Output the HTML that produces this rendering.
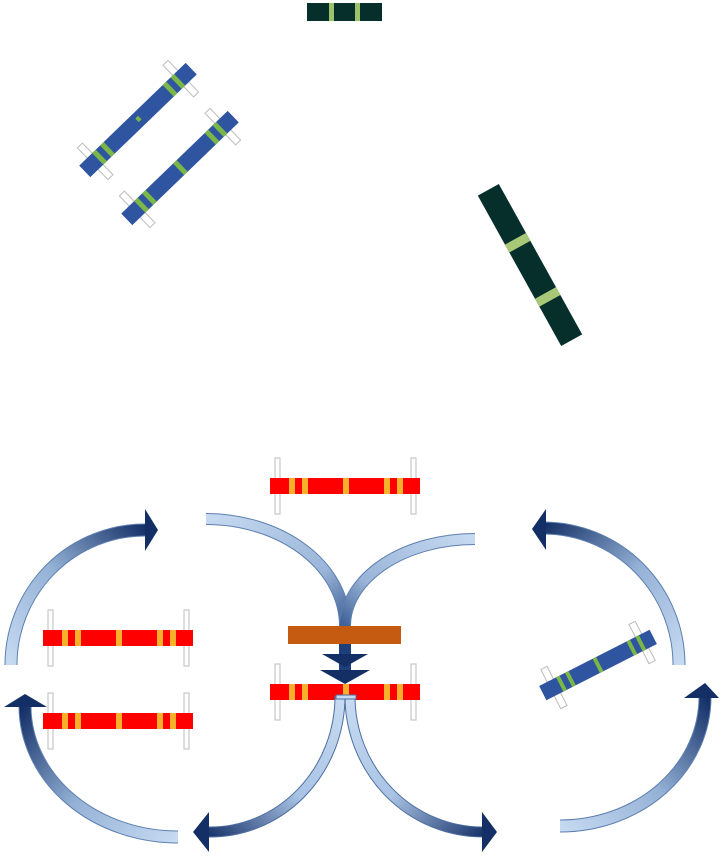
<!DOCTYPE html>
<html><head><style>html,body{margin:0;padding:0;background:#fff}svg{display:block}</style></head>
<body>
<svg width="723" height="860" viewBox="0 0 723 860" xmlns="http://www.w3.org/2000/svg">
<defs>
<g id="red">
  <rect x="5" y="-20" width="5" height="56" fill="#fff" stroke="#bbb" stroke-width="1"/>
  <rect x="141" y="-20" width="5" height="56" fill="#fff" stroke="#bbb" stroke-width="1"/>
  <rect x="0" y="0" width="150" height="16" fill="#ff0000"/>
  <rect x="19" y="0" width="6" height="16" fill="#f8b02a"/>
  <rect x="32" y="0" width="6" height="16" fill="#f8b02a"/>
  <rect x="73" y="0" width="6" height="16" fill="#f8b02a"/>
  <rect x="114" y="0" width="6" height="16" fill="#f8b02a"/>
  <rect x="127" y="0" width="6" height="16" fill="#f8b02a"/>
</g>
<linearGradient id="gL1" gradientUnits="userSpaceOnUse" x1="10" y1="665" x2="150" y2="530"><stop offset="0" stop-color="#c6daf1"/><stop offset="0.5" stop-color="#94b1d6"/><stop offset="1" stop-color="#132f66"/></linearGradient>
<linearGradient id="gL2" gradientUnits="userSpaceOnUse" x1="178" y1="838" x2="25" y2="705"><stop offset="0" stop-color="#c6daf1"/><stop offset="0.5" stop-color="#94b1d6"/><stop offset="1" stop-color="#132f66"/></linearGradient>
<linearGradient id="gR1" gradientUnits="userSpaceOnUse" x1="680" y1="665" x2="540" y2="528"><stop offset="0" stop-color="#c6daf1"/><stop offset="0.5" stop-color="#94b1d6"/><stop offset="1" stop-color="#132f66"/></linearGradient>
<linearGradient id="gR2" gradientUnits="userSpaceOnUse" x1="560" y1="828" x2="705" y2="695"><stop offset="0" stop-color="#c6daf1"/><stop offset="0.5" stop-color="#94b1d6"/><stop offset="1" stop-color="#132f66"/></linearGradient>
<linearGradient id="gM1" gradientUnits="userSpaceOnUse" x1="206" y1="518" x2="345" y2="680"><stop offset="0" stop-color="#c6daf1"/><stop offset="0.55" stop-color="#9ab5d8"/><stop offset="0.8" stop-color="#3d5f96"/><stop offset="1" stop-color="#132f66"/></linearGradient>
<linearGradient id="gM2" gradientUnits="userSpaceOnUse" x1="475" y1="538" x2="345" y2="680"><stop offset="0" stop-color="#c6daf1"/><stop offset="0.55" stop-color="#9ab5d8"/><stop offset="0.8" stop-color="#3d5f96"/><stop offset="1" stop-color="#132f66"/></linearGradient>
<linearGradient id="gB1" gradientUnits="userSpaceOnUse" x1="340" y1="700" x2="200" y2="832"><stop offset="0" stop-color="#c6daf1"/><stop offset="0.5" stop-color="#a9c3e5"/><stop offset="1" stop-color="#132f66"/></linearGradient>
<linearGradient id="gB2" gradientUnits="userSpaceOnUse" x1="350" y1="700" x2="490" y2="832"><stop offset="0" stop-color="#c6daf1"/><stop offset="0.5" stop-color="#a9c3e5"/><stop offset="1" stop-color="#132f66"/></linearGradient>
</defs>

<rect x="307" y="3" width="75" height="18" fill="#062f2b"/>
<rect x="329" y="3" width="5" height="18" fill="#9cc26a"/>
<rect x="355" y="3" width="5" height="18" fill="#9cc26a"/>

<g transform="translate(138,120) rotate(-44)">
  <rect x="-63" y="-22" width="7" height="44" fill="#fff" stroke="#bbb"/>
  <rect x="56" y="-22" width="7" height="44" fill="#fff" stroke="#bbb"/>
  <rect x="-74" y="-8" width="148" height="16" fill="#2f54a0"/>
  <rect x="-56" y="-8" width="5" height="16" fill="#7ab648"/>
  <rect x="-45" y="-8" width="5" height="16" fill="#7ab648"/>
  <rect x="-1" y="-3" width="4" height="5" fill="#7ab648"/>
  <rect x="42" y="-8" width="5" height="16" fill="#7ab648"/>
  <rect x="53" y="-8" width="5" height="16" fill="#7ab648"/>
</g>
<g transform="translate(180,168) rotate(-44)">
  <rect x="-63" y="-22" width="7" height="44" fill="#fff" stroke="#bbb"/>
  <rect x="56" y="-22" width="7" height="44" fill="#fff" stroke="#bbb"/>
  <rect x="-74" y="-8" width="148" height="16" fill="#2f54a0"/>
  <rect x="-56" y="-8" width="5" height="16" fill="#7ab648"/>
  <rect x="-45" y="-8" width="5" height="16" fill="#7ab648"/>
  <rect x="-2" y="-8" width="5" height="16" fill="#7ab648"/>
  <rect x="42" y="-8" width="5" height="16" fill="#7ab648"/>
  <rect x="53" y="-8" width="5" height="16" fill="#7ab648"/>
</g>

<g transform="translate(530,265) rotate(61)">
  <rect x="-86" y="-12" width="172" height="24" fill="#062f2b"/>
  <rect x="-30" y="-12" width="9" height="24" fill="#a8c878"/>
  <rect x="32" y="-12" width="9" height="24" fill="#a8c878"/>
</g>

<use href="#red" x="270" y="478"/>
<use href="#red" x="43" y="630"/>
<use href="#red" x="43" y="713"/>
<use href="#red" x="270" y="684"/>

<g transform="translate(598,665) rotate(-27)">
  <rect x="-53" y="-22" width="7" height="44" fill="#fff" stroke="#bbb"/>
  <rect x="46" y="-22" width="7" height="44" fill="#fff" stroke="#bbb"/>
  <rect x="-62" y="-8" width="124" height="16" fill="#2f54a0"/>
  <rect x="-43" y="-8" width="4" height="16" fill="#7ab648"/>
  <rect x="-33" y="-8" width="4" height="16" fill="#7ab648"/>
  <rect x="-2" y="-8" width="4" height="16" fill="#7ab648"/>
  <rect x="36" y="-8" width="4" height="16" fill="#7ab648"/>
  <rect x="46" y="-8" width="4" height="16" fill="#7ab648"/>
</g>

<g fill="none">
  <path d="M11 665 A134 135 0 0 1 146 530" stroke="#5d7fb0" stroke-width="13"/>
  <path d="M11 665 A134 135 0 0 1 146 530" stroke="url(#gL1)" stroke-width="11"/>
  <path d="M178 837 A153 131 0 0 1 25 707" stroke="#5d7fb0" stroke-width="13"/>
  <path d="M178 837 A153 131 0 0 1 25 707" stroke="url(#gL2)" stroke-width="11"/>
  <path d="M679 665 A136 137 0 0 0 544 528" stroke="#5d7fb0" stroke-width="13"/>
  <path d="M679 665 A136 137 0 0 0 544 528" stroke="url(#gR1)" stroke-width="11"/>
  <path d="M560 826 A145 129 0 0 0 705 697" stroke="#5d7fb0" stroke-width="13"/>
  <path d="M560 826 A145 129 0 0 0 705 697" stroke="url(#gR2)" stroke-width="11"/>
  <path d="M206 519 A139 107 0 0 1 345 626" stroke="#5d7fb0" stroke-width="12"/>
  <path d="M206 519 A139 107 0 0 1 345 626" stroke="url(#gM1)" stroke-width="10"/>
  <path d="M475 539 A130 87 0 0 0 345 626" stroke="#5d7fb0" stroke-width="12"/>
  <path d="M475 539 A130 87 0 0 0 345 626" stroke="url(#gM2)" stroke-width="10"/>
  <path d="M340 696 A130 136 0 0 1 208 832" stroke="#4d6fa0" stroke-width="11"/>
  <path d="M340 696 A130 136 0 0 1 208 832" stroke="url(#gB1)" stroke-width="9"/>
  <path d="M350 696 A133 136 0 0 0 483 832" stroke="#4d6fa0" stroke-width="11"/>
  <path d="M350 696 A133 136 0 0 0 483 832" stroke="url(#gB2)" stroke-width="9"/>
</g>

<g fill="#132f66">
  <polygon points="145,509 158,530 145,551"/>
  <polygon points="4,707 25,694 47,707"/>
  <polygon points="546,509 532,529 546,550"/>
  <polygon points="684,698 705,683 719,698"/>
  <polygon points="209,812 193,832 209,852"/>
  <polygon points="482,812 497,832 482,852"/>
</g>

<rect x="288" y="626" width="113" height="18" fill="#c55a11"/>
<rect x="339" y="644" width="12" height="30" fill="#1d3f7a"/>
<polygon points="322,654 368,654 345,667" fill="#132f66"/>
<polygon points="320,670 370,670 345,684" fill="#132f66"/>
<rect x="343" y="684" width="6" height="14" fill="#f8b02a"/>
<rect x="336" y="695" width="20" height="4" fill="#c6daf1" stroke="#4d6fa0" stroke-width="1"/>
</svg>
</body></html>
